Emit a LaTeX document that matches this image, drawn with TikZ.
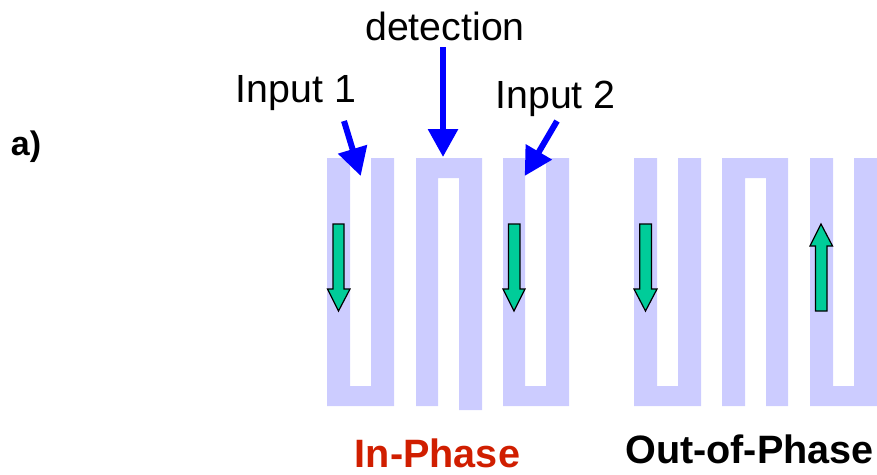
\documentclass[tikz,border=0pt]{standalone}
\usepackage{fontspec}
\setmainfont{Liberation Sans}
\usetikzlibrary{arrows.meta}
\definecolor{trace}{RGB}{204,204,255}
\definecolor{flowgreen}{RGB}{0,204,153}
\definecolor{phasered}{RGB}{208,30,0}
\tikzset{
  trace/.style={fill=trace,draw=none},
  flow/.style={fill=flowgreen,draw=black,line width=1.2pt,line join=miter},
  probe/.style={draw=blue,line width=6pt,-{Triangle[length=28pt,width=29pt,color=blue]},shorten >=0pt},
  lab/.style={anchor=base,inner sep=0pt,font=\fontsize{39.3}{39.3}\selectfont},
  blab/.style={anchor=base,inner sep=0pt,font=\fontsize{39.6}{39.6}\selectfont\bfseries},
}
\begin{document}
\begin{tikzpicture}[x=1pt,y=-1pt]
\useasboundingbox (0,0) rectangle (877,474);
% left group
\fill[trace] (327,158)--(350,158)--(350,386)--(371,386)--(371,158)--(394,158)--(394,406)--(327,406)--cycle;
\fill[trace] (416,158)--(482,158)--(482,410)--(459,410)--(459,178)--(438,178)--(438,406)--(416,406)--cycle;
\fill[trace] (503,158)--(525,158)--(525,386)--(546,386)--(546,158)--(569,158)--(569,406)--(503,406)--cycle;
% right group
\fill[trace] (634,158)--(657,158)--(657,386)--(678,386)--(678,158)--(701,158)--(701,406)--(634,406)--cycle;
\fill[trace] (722,158)--(788,158)--(788,406)--(766,406)--(766,178)--(745,178)--(745,406)--(722,406)--cycle;
\fill[trace] (810,158)--(833,158)--(833,386)--(854,386)--(854,158)--(877,158)--(877,406)--(810,406)--cycle;
% green arrows
\draw[flow] (333,224)--(344,224)--(344,289)--(350,289)--(338.5,311)--(327.5,289)--(333,289)--cycle;
\draw[flow] (508.5,224)--(520,224)--(520,289)--(525,289)--(514,311)--(503,289)--(508.5,289)--cycle;
\draw[flow] (639.7,224)--(651.5,224)--(651.5,289)--(657,289)--(645.5,311)--(634,289)--(639.7,289)--cycle;
\draw[flow] (815.5,311)--(827,311)--(827,246)--(832.5,246)--(821,224)--(810,246)--(815.5,246)--cycle;
% labels
\node[lab] (det) at (445,40) {detection};
\node[lab] (in1) at (296,102) {Input 1};
\node[lab] (in2) at (555.5,108.5) {Input 2};
\node[anchor=base,inner sep=0pt,font=\fontsize{34}{34}\selectfont\bfseries] (a) at (26,155.5) {a)};
\node[blab,text=phasered] (ip) at (437.5,467) {In-Phase};
\node[blab] (oop) at (749.5,463) {Out-of-Phase};
% blue arrows
\coordinate (t0) at (443,47); \coordinate (h0) at (443,157);
\coordinate (t1) at (344,121); \coordinate (h1) at (360.7,176);
\coordinate (t2) at (557,121); \coordinate (h2) at (524.7,176);
\draw[probe] (t0)--(h0);
\draw[probe] (t1)--(h1);
\draw[probe] (t2)--(h2);
\end{tikzpicture}
\end{document}
